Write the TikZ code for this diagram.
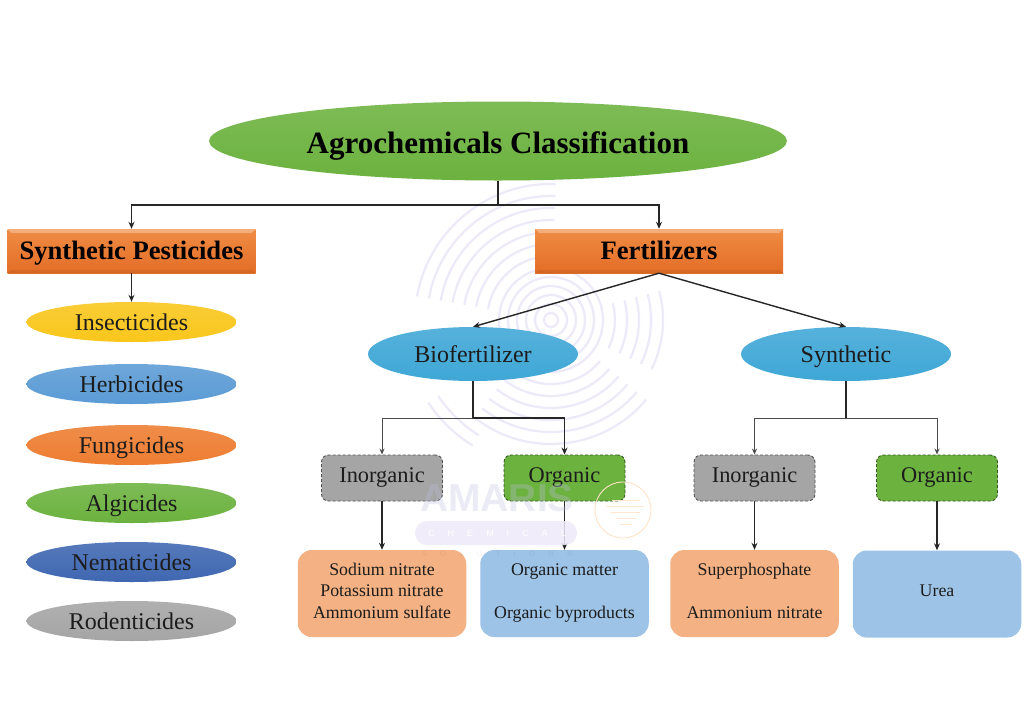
\documentclass[tikz,border=0pt]{standalone}
\usepackage{fontspec}
\setmainfont{Liberation Serif}
\newfontfamily\wmsans{Liberation Sans}
\usetikzlibrary{shapes.geometric,arrows.meta}
\definecolor{txtc}{HTML}{1C1C1C}
\definecolor{wmc}{HTML}{EEE9F9}
\definecolor{yel}{HTML}{F9C61B}\definecolor{blu}{HTML}{5B9BD5}\definecolor{org}{HTML}{ED7D31}
\definecolor{grn}{HTML}{6CB23F}\definecolor{dbl}{HTML}{3F67B1}\definecolor{gry}{HTML}{A5A5A5}
\definecolor{cya}{HTML}{3FA7D6}\definecolor{pch}{HTML}{F4B183}\definecolor{lbl}{HTML}{9DC3E6}
\definecolor{orgT}{HTML}{F08C44}\definecolor{orgB}{HTML}{E36D27}
\newcommand{\fs}[1]{\fontsize{#1}{21.5}\selectfont}
% lift text by half of the extra depth
\newcommand{\lifted}[2]{\raisebox{0pt}[\height][\dimexpr\depth+#1\relax]{\begin{tabular}{@{}c@{}}#2\end{tabular}}}
\tikzset{
  x=1pt,y=-1pt,
  ell/.style={ellipse,inner sep=0pt,minimum width=210pt,minimum height=40pt,text=txtc,
    font=\fs{24},text height=19.2pt,text depth=3.2pt,top color=#1!88!white,bottom color=#1},
  bevelbox/.style={rectangle,inner sep=0pt,minimum width=248pt,minimum height=44pt,text=black,
    top color=orgT,bottom color=orgB,font=\bfseries\fs{26.6},text height=19pt,text depth=3pt,
    path picture={
      \fill[white,opacity=.3] (path picture bounding box.north west)--(path picture bounding box.north east)--([shift={(-4pt,-4pt)}]path picture bounding box.north east)--([shift={(4pt,-4pt)}]path picture bounding box.north west)--cycle;
      \fill[black,opacity=.06] (path picture bounding box.south west)--(path picture bounding box.south east)--([shift={(-4pt,3pt)}]path picture bounding box.south east)--([shift={(4pt,3pt)}]path picture bounding box.south west)--cycle;
    }},
  dashbox/.style={rectangle,rounded corners=7pt,inner sep=0pt,minimum width=121pt,minimum height=46pt,
    draw=#1!50!black,densely dashed,line width=.9pt,fill=#1,text=txtc,font=\fs{22.4},
    text height=15pt,text depth=6pt},
  itembox/.style={rectangle,rounded corners=14pt,inner sep=0pt,minimum width=168.5pt,minimum height=87pt,
    fill=#1,text=txtc,font=\fs{17.8}},
  conn/.style={draw=black!85,line width=1.4pt},
  arr/.style={conn,-{Stealth[length=7pt,width=6pt]}},
  thin arr/.style={draw=black!70,line width=1pt,-{Stealth[length=6pt,width=5pt]}},
  wave/.style={draw=wmc,line width=2.2pt},
}
\begin{document}
\begin{tikzpicture}
\useasboundingbox (0,0) rectangle (1024,720);
\fill[white] (0,0) rectangle (1024,720);
% watermark rings (angles run clockwise on the page: 0 right, 90 down)
\foreach \r in {7,16,25,34,43,52}{\draw[wave] (551,320) circle[radius=\r];}
\foreach \r in {64,76,88,100,112,124,136}{
  \draw[wave] (551,320) ++(190:\r) arc[start angle=190,end angle=272,radius=\r];}
\foreach \r in {64,76,88,100,112}{
  \draw[wave] (551,320) ++(-15:\r) arc[start angle=-15,end angle=26,radius=\r];}
\foreach \r in {64,76,88,100,112,124}{
  \draw[wave] (551,320) ++(40:\r) arc[start angle=40,end angle=128,radius=\r];}
\foreach \r in {136,148}{
  \draw[wave] (551,320) ++(122:\r) arc[start angle=122,end angle=146,radius=\r];}
% main nodes
\node[ell=grn,minimum width=578pt,minimum height=79pt,font=\bfseries\fs{31},text=black,text height=26pt,text depth=2pt] (root) at (498,141) {Agrochemicals Classification};
\node[bevelbox] (pest) at (131.5,251) {Synthetic Pesticides};
\node[bevelbox] (fert) at (659,251) {Fertilizers};

\node[ell=yel] (ins) at (131.5,322) {Insecticides};
\node[ell=blu] (her) at (131.5,384) {Herbicides};
\node[ell=org] (fun) at (131.5,445) {Fungicides};
\node[ell=grn] (alg) at (131.5,503) {Algicides};
\node[ell=dbl] (nem) at (131.5,562) {Nematicides};
\node[ell=gry] (rod) at (131.5,621) {Rodenticides};

\node[ell=cya,minimum height=54pt] (bio) at (473,354) {Biofertilizer};
\node[ell=cya,minimum height=54pt] (syn) at (846,354) {Synthetic};

\node[dashbox=gry] (in1) at (382,478) {Inorganic};
\node[dashbox=grn] (or1) at (564.5,478) {Organic};
\node[dashbox=gry] (in2) at (754.5,478) {Inorganic};
\node[dashbox=grn] (or2) at (937,478) {Organic};

\node[itembox=pch] (b1) at (382,593.5) {\lifted{2pt}{Sodium nitrate\\Potassium nitrate\\Ammonium sulfate}};
\node[itembox=lbl] (b2) at (564.5,593.5) {\lifted{2pt}{Organic matter\\[21.5pt]Organic byproducts}};
\node[itembox=pch] (b3) at (754.5,593.5) {\lifted{2pt}{Superphosphate\\[21.5pt]Ammonium nitrate}};
\node[itembox=lbl] (b4) at (937,594) {\lifted{4pt}{Urea}};

% connectors
\coordinate (bus0) at (498,205);
\coordinate (busL) at (131.5,205);
\coordinate (busR) at (659,205);
\draw[conn] (root.south) -- (bus0);
\draw[arr] (bus0) -- (busL) -- (pest.north);
\draw[arr] (bus0) -- (busR) -- (fert.north);
\draw[arr] (pest.south) -- (ins.north);
\draw[arr] (fert.south) -- (bio.north);
\draw[arr] (fert.south) -- (syn.north);

\coordinate (bb) at (473,418);
\coordinate (bl) at (382,418);
\coordinate (br) at (564.5,418);
\draw[conn,line width=1.1pt] (bio.south) -- (bb);
\draw[thin arr] (bb) -- (bl) -- (in1.north);
\draw[arr,line width=1.1pt] (bb) -- (br) -- (or1.north);
\coordinate (sb) at (846,418);
\coordinate (sl) at (754.5,418);
\coordinate (sr) at (937,418);
\draw[conn,line width=1.1pt] (syn.south) -- (sb);
\draw[thin arr] (sb) -- (sl) -- (in2.north);
\draw[thin arr] (sb) -- (sr) -- (or2.north);

\draw[arr,line width=1.8pt] (in1.south) -- (b1.north);
\draw[arr] (or1.south) -- (b2.north);
\draw[arr,line width=1.8pt] (in2.south) -- (b3.north);
\draw[arr] (or2.south) -- (b4.north);

% watermark logo and text
\node[inner sep=0pt,text=black!45!blue!25!white,opacity=.3,font=\wmsans\bfseries\fs{39}] (wm1) at (497,498) {AMARIS};
\fill[wmc,opacity=.85,rounded corners=12pt] (415,521) rectangle (577,545);
\node[inner sep=0pt,text=white,font=\wmsans\fs{9}] (wm2) at (497,533) {C\hspace{13pt}H\hspace{13pt}E\hspace{13pt}M\hspace{13pt}I\hspace{13pt}C\hspace{13pt}A\hspace{13pt}L};
\node[inner sep=0pt,text=black,opacity=.05,font=\wmsans\fs{8}] (wm3) at (497,553.5) {S\hspace{13pt}O\hspace{13pt}L\hspace{13pt}U\hspace{13pt}T\hspace{13pt}I\hspace{13pt}O\hspace{13pt}N\hspace{13pt}S};
\draw[orange!22,line width=.9pt] (623,510) circle[radius=28];
\foreach \yy/\xa/\xb in {500/612/640,506/606/644,512/610/640,518/616/636,524/620/632}{
  \draw[orange!18,line width=.9pt] (\xa,\yy) -- (\xb,\yy);}
\end{tikzpicture}
\end{document}
